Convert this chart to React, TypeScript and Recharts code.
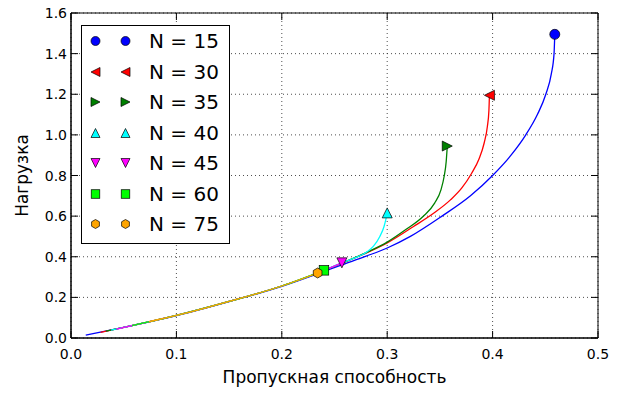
import React from "react";
import {
  LineChart,
  Line,
  XAxis,
  YAxis,
  CartesianGrid,
  ReferenceArea,
} from "recharts";

// Пропускная способность (x) / Нагрузка (y) for each N
const X_TICKS = [0, 0.1, 0.2, 0.3, 0.4, 0.5];
const Y_TICKS = [0, 0.2, 0.4, 0.6, 0.8, 1.0, 1.2, 1.4, 1.6];

const X15 = [0.014, 0.05, 0.1, 0.15, 0.2, 0.234, 0.257, 0.28, 0.3, 0.322, 0.352, 0.379, 0.4, 0.4175, 0.4315, 0.4425, 0.4505, 0.4557, 0.4583, 0.459];
const Y15 = [0.014, 0.052, 0.11, 0.179, 0.254, 0.316, 0.36, 0.403, 0.443, 0.5, 0.6, 0.7, 0.8, 0.9, 1.0, 1.1, 1.2, 1.3, 1.4, 1.495];

const X30 = [0.028, 0.05, 0.1, 0.15, 0.2, 0.234, 0.257, 0.28, 0.3, 0.325, 0.344, 0.36, 0.371, 0.38, 0.387, 0.392, 0.395, 0.3965, 0.397];
const Y30 = [0.028, 0.052, 0.111, 0.18, 0.256, 0.32, 0.368, 0.418, 0.468, 0.549, 0.614, 0.68, 0.74, 0.81, 0.88, 0.96, 1.04, 1.12, 1.195];

const X35 = [0.033, 0.05, 0.1, 0.15, 0.2, 0.234, 0.257, 0.28, 0.3, 0.318, 0.334, 0.345, 0.351, 0.354, 0.356, 0.357];
const Y35 = [0.034, 0.052, 0.111, 0.18, 0.256, 0.32, 0.369, 0.42, 0.472, 0.535, 0.598, 0.664, 0.729, 0.795, 0.87, 0.945];

const X40 = [0.038, 0.05, 0.1, 0.15, 0.2, 0.234, 0.257, 0.268, 0.281, 0.287, 0.293, 0.297, 0.299, 0.3];
const Y40 = [0.039, 0.052, 0.111, 0.18, 0.256, 0.32, 0.37, 0.392, 0.425, 0.452, 0.5, 0.549, 0.59, 0.616];

const X45 = [0.043, 0.05, 0.1, 0.15, 0.2, 0.234, 0.257];
const Y45 = [0.044, 0.052, 0.111, 0.18, 0.256, 0.32, 0.37];

const X60 = [0.058, 0.1, 0.15, 0.2, 0.24];
const Y60 = [0.061, 0.111, 0.18, 0.256, 0.333];

const X75 = [0.074, 0.1, 0.15, 0.2, 0.234];
const Y75 = [0.08, 0.111, 0.18, 0.256, 0.32];

const N_LABELS = ["N = 15", "N = 30", "N = 35", "N = 40", "N = 45", "N = 60", "N = 75"];

const SERIES = [
  { label: N_LABELS[0], xs: X15, ys: Y15 },
  { label: N_LABELS[1], xs: X30, ys: Y30 },
  { label: N_LABELS[2], xs: X35, ys: Y35 },
  { label: N_LABELS[3], xs: X40, ys: Y40 },
  { label: N_LABELS[4], xs: X45, ys: Y45 },
  { label: N_LABELS[5], xs: X60, ys: Y60 },
  { label: N_LABELS[6], xs: X75, ys: Y75 },
];

const STYLES = [
  { color: "#0000ff", shape: "circle" },
  { color: "#ff0000", shape: "tri-left" },
  { color: "#008000", shape: "tri-right" },
  { color: "#00ffff", shape: "tri-up" },
  { color: "#ff00ff", shape: "tri-down" },
  { color: "#00ff00", shape: "square" },
  { color: "#ffa500", shape: "hexagon" },
];

const W = 625;
const H = 394;
const PLOT_TOP = 13;
const PLOT_BOTTOM = 338;
const PLOT_LEFT = 71;
const PLOT_RIGHT = 598;
const TICK = 7;
const FONT = "'DejaVu Sans', sans-serif";

function Marker({ shape, cx, cy, size, fill }: any) {
  const h = size / 2;
  const common = { fill, stroke: "#000", strokeWidth: 0.7 };
  switch (shape) {
    case "circle":
      return <circle cx={cx} cy={cy} r={h} {...common} />;
    case "tri-left":
      return <polygon points={`${cx - h},${cy} ${cx + h},${cy - h} ${cx + h},${cy + h}`} {...common} />;
    case "tri-right":
      return <polygon points={`${cx + h},${cy} ${cx - h},${cy - h} ${cx - h},${cy + h}`} {...common} />;
    case "tri-up":
      return <polygon points={`${cx},${cy - h} ${cx - h},${cy + h} ${cx + h},${cy + h}`} {...common} />;
    case "tri-down":
      return <polygon points={`${cx},${cy + h} ${cx - h},${cy - h} ${cx + h},${cy - h}`} {...common} />;
    case "square": {
      const s = h * 0.95;
      return <rect x={cx - s} y={cy - s} width={s * 2} height={s * 2} {...common} />;
    }
    default: {
      const pts = [0, 1, 2, 3, 4, 5]
        .map((i) => {
          const a = (Math.PI / 3) * i - Math.PI / 2;
          return `${cx + h * Math.cos(a)},${cy + h * Math.sin(a)}`;
        })
        .join(" ");
      return <polygon points={pts} {...common} />;
    }
  }
}

function XTick({ x, payload }: any) {
  return (
    <g>
      <line x1={x} x2={x} y1={PLOT_BOTTOM} y2={PLOT_BOTTOM - TICK} stroke="#000" />
      <line x1={x} x2={x} y1={PLOT_TOP} y2={PLOT_TOP + TICK} stroke="#000" />
      <text x={x} y={PLOT_BOTTOM + 21} textAnchor="middle" fontSize={14} fontFamily={FONT} fill="#000">
        {payload.value.toFixed(1)}
      </text>
    </g>
  );
}

function YTick({ y, payload }: any) {
  return (
    <g>
      <line x1={PLOT_LEFT} x2={PLOT_LEFT + TICK} y1={y} y2={y} stroke="#000" />
      <line x1={PLOT_RIGHT} x2={PLOT_RIGHT - TICK} y1={y} y2={y} stroke="#000" />
      <text x={PLOT_LEFT - 4} y={y} dy="0.36em" textAnchor="end" fontSize={14} fontFamily={FONT} fill="#000">
        {payload.value.toFixed(1)}
      </text>
    </g>
  );
}

function YLabel({ viewBox }: any) {
  const cy = viewBox.y + viewBox.height / 2;
  return (
    <text x={22} y={cy} transform={`rotate(-90 22 ${cy})`} dy="0.35em" textAnchor="middle" fontSize={17} fontFamily={FONT} fill="#000">
      Нагрузка
    </text>
  );
}

function XLabel({ viewBox }: any) {
  const cx = viewBox.x + viewBox.width / 2;
  return (
    <text x={cx} y={383} textAnchor="middle" fontSize={17} fontFamily={FONT} fill="#000">
      Пропускная способность
    </text>
  );
}

function LegendBox() {
  return (
    <div
      style={{
        position: "absolute",
        left: 81,
        top: 25,
        width: 149,
        height: 219,
        border: "1px solid #000",
        background: "#fff",
        boxSizing: "border-box",
        fontFamily: FONT,
      }}
    >
      {SERIES.map((s, i) => (
        <div key={s.label} style={{ position: "absolute", left: 0, top: 15 + i * 30.55 - 15, height: 30, width: 147 }}>
          <svg width={60} height={30} style={{ position: "absolute", left: 0, top: 0 }}>
            <Marker shape={STYLES[i].shape} cx={13.5} cy={15} size={9} fill={STYLES[i].color} />
            <Marker shape={STYLES[i].shape} cx={43.5} cy={15} size={9} fill={STYLES[i].color} />
          </svg>
          <span style={{ position: "absolute", left: 67, top: 3, fontSize: 20, lineHeight: "24px", whiteSpace: "nowrap", color: "#000" }}>
            {s.label}
          </span>
        </div>
      ))}
    </div>
  );
}

export default function App() {
  return (
    <div style={{ position: "absolute", left: 0, top: 0, width: W, height: H, background: "#fff" }}>
      <LineChart width={W} height={H} margin={{ top: PLOT_TOP, right: W - PLOT_RIGHT, bottom: 26, left: 11 }}>
        <CartesianGrid stroke="#222" strokeWidth={0.8} strokeDasharray="1 3" vertical horizontal />
        <XAxis
          type="number"
          dataKey="x"
          domain={[0, 0.5]}
          ticks={X_TICKS}
          allowDataOverflow
          height={30}
          tickLine={false}
          tickSize={0}
          axisLine={{ stroke: "#000" }}
          tick={<XTick />}
          label={<XLabel />}
        />
        <YAxis
          type="number"
          domain={[0, 1.6]}
          ticks={Y_TICKS}
          allowDataOverflow
          width={60}
          tickLine={false}
          tickSize={0}
          axisLine={{ stroke: "#000" }}
          tick={<YTick />}
          label={<YLabel />}
        />
        <ReferenceArea x1={0} x2={0.5} y1={0} y2={1.6} fill="none" stroke="#000" strokeWidth={1} ifOverflow="visible" />
        {SERIES.map((s, i) => {
          const data = s.xs.map((x, j) => ({ x, y: s.ys[j] }));
          const last = data.length - 1;
          return (
            <Line
              key={s.label}
              data={data}
              dataKey="y"
              type="monotone"
              stroke={STYLES[i].color}
              strokeWidth={1.3}
              isAnimationActive={false}
              activeDot={false}
              dot={(p: any) =>
                p.index === last ? (
                  <Marker key={`m-${i}`} shape={STYLES[i].shape} cx={p.cx} cy={p.cy} size={10} fill={STYLES[i].color} />
                ) : (
                  <g key={`d-${i}-${p.index}`} />
                )
              }
            />
          );
        })}
      </LineChart>
      <LegendBox />
    </div>
  );
}
